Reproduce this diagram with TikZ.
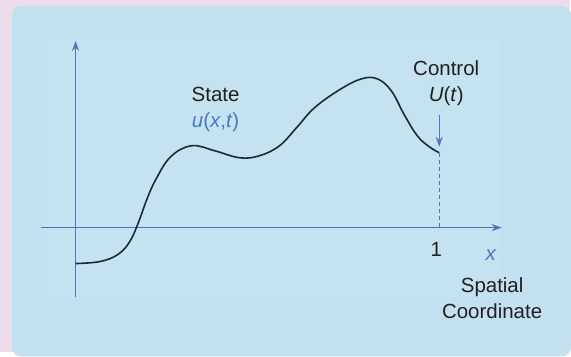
\documentclass[tikz,border=0pt]{standalone}
\usepackage{fontspec}
\setmainfont{Liberation Sans}
\usepackage{tikz}
\usetikzlibrary{arrows.meta,positioning,calc}
\usepackage{xcolor}

\definecolor{pinkbg}{HTML}{EDDDEC}
\definecolor{bluebg}{HTML}{C2E0EF}
\definecolor{plotbg}{HTML}{C5E2F1}
\definecolor{axisblue}{HTML}{4D77B8}
\definecolor{curvenavy}{HTML}{1B2744}
\definecolor{textgray}{HTML}{231F20}
\definecolor{labelblue}{HTML}{4A78C2}

\begin{document}
\begin{tikzpicture}[
    x=1pt, y=-1pt,
    axis/.style={draw=axisblue, line width=1pt, -{Stealth[length=10pt,width=7pt]}},
    curve/.style={draw=curvenavy, line width=1.6pt},
    lbl/.style={align=center, text=textgray, inner sep=0pt, font=\fontsize{20.5}{26}\selectfont},
    every node/.style={font=\fontsize{20.5}{26}\selectfont}
]
    % Backgrounds
    \fill[pinkbg] (0,0) rectangle (571,353);
    \fill[bluebg, rounded corners=9pt] (12,6) rectangle (572,357);
    \fill[plotbg] (41,40) rectangle (502,298);
    \useasboundingbox (0,0) rectangle (571,353);

    % Axes
    \coordinate (ybot) at (75.7,298);
    \coordinate (ytop) at (75.7,41);
    \coordinate (xleft) at (41,228);
    \coordinate (xright) at (502.5,228);
    \draw[axis] (ybot) -- (ytop);
    \draw[axis] (xleft) -- (xright);

    % State curve
    \draw[curve] plot[smooth, tension=0.65] coordinates {
        (75.7,264) (100,262) (118,255) (130,242) (139,222) (147,200)
        (156,180) (171,157) (192,146) (215,151) (240,158) (260,156)
        (280,146) (297,128) (315,108) (340,90) (362,79) (378,79)
        (392,91) (405,115) (418,136) (430,147) (440,153)};
    \coordinate (ctrl) at (440,153);
    \coordinate (xone) at (440,228);
    \coordinate (ctrltop) at (440,115);

    % Boundary control
    \draw[axisblue, line width=0.9pt, dash pattern=on 4pt off 3pt] (ctrl) -- (xone);
    \draw[axis] (ctrltop) -- ($(ctrl)+(0,-6)$);

    % Labels
    \node[lbl] (state) at (216,110) {State\\\textcolor{labelblue}{\textit{u}(\textit{x},\textit{t})}};
    \node[lbl] (control) at (447,83) {Control\\\textit{U}(\textit{t})};
    \node[lbl] (one) at (437,250) {1};
    \node[lbl, text=labelblue] (xlbl) at (492,256) {\textit{x}};
    \node[lbl] (spatial) at (493,299) {Spatial\\Coordinate};
\end{tikzpicture}
\end{document}
